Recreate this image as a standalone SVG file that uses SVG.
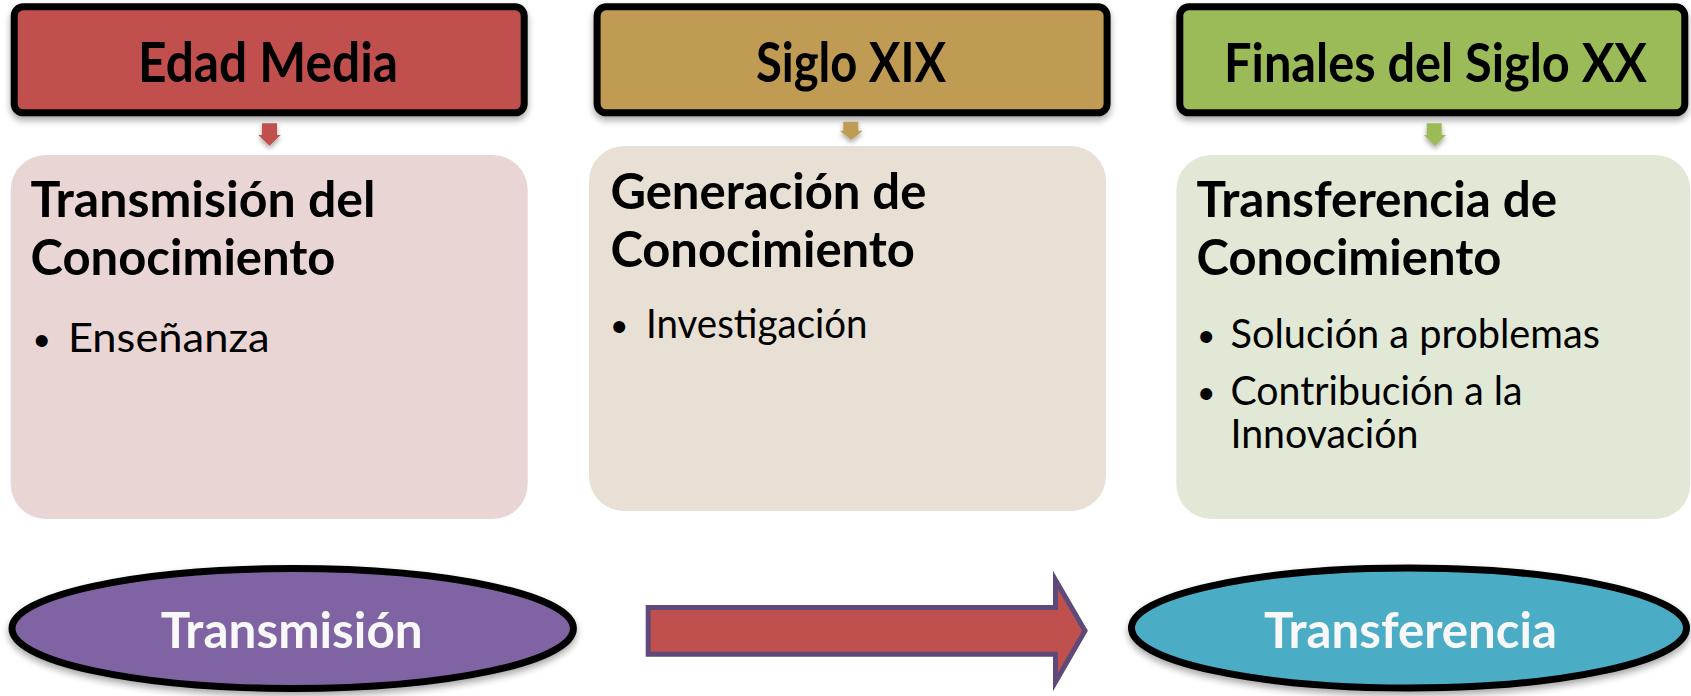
<svg xmlns="http://www.w3.org/2000/svg" width="1691" height="696" viewBox="0 0 1691 696">
  <defs>
    <filter id="shadow" x="-10%" y="-20%" width="120%" height="150%">
      <feDropShadow dx="0" dy="4" stdDeviation="3.5" flood-color="#000" flood-opacity="0.35"/>
    </filter>
    <filter id="shadowSmall" x="-50%" y="-50%" width="200%" height="200%">
      <feDropShadow dx="0" dy="3" stdDeviation="2.5" flood-color="#000" flood-opacity="0.35"/>
    </filter>
  </defs>
  <style>
    .hdr { stroke: #000; stroke-width: 7; filter: url(#shadow); }
    .hdrText { font-family: Lato, "Open Sans", "Liberation Sans", sans-serif; font-weight: 700; font-size: 56px; fill: #000; }
    .box { stroke: none; }
    .title { font-family: Lato, "Open Sans", "Liberation Sans", sans-serif; font-weight: 700; font-size: 50px; fill: #000; }
    .item { font-family: Lato, "Open Sans", "Liberation Sans", sans-serif; font-weight: 400; font-size: 40px; fill: #000; }
    .bullet { font-family: "Liberation Sans", Arial, sans-serif; font-weight: 400; font-size: 44px; fill: #000; }
    .oval { stroke: #000; stroke-width: 7; filter: url(#shadow); }
    .ovalText { font-family: Lato, "Open Sans", "Liberation Sans", sans-serif; font-weight: 700; font-size: 49px; fill: #F8F8F8; }
    .small { filter: url(#shadowSmall); }
  </style>

  <g id="header-edad-media">
    <rect class="hdr" x="14.2" y="6.8" width="510" height="106" rx="9" fill="#C0504D"/>
    <text class="hdrText" x="138" y="81.7" textLength="260" lengthAdjust="spacingAndGlyphs">Edad Media</text>
  </g>
  <g id="header-siglo-xix">
    <rect class="hdr" x="597.1" y="6.8" width="510" height="106" rx="9" fill="#BF9B53"/>
    <text class="hdrText" x="756" y="81.7" textLength="190" lengthAdjust="spacingAndGlyphs">Siglo XIX</text>
  </g>
  <g id="header-finales-siglo-xx">
    <rect class="hdr" x="1179.8" y="6.8" width="505" height="106" rx="9" fill="#9BBB59"/>
    <text class="hdrText" x="1224" y="81.7" textLength="423" lengthAdjust="spacingAndGlyphs" style="font-size:53px">Finales del Siglo XX</text>
  </g>

  <g id="box-transmision">
    <rect class="box" x="10.7" y="155" width="517" height="364" rx="35" fill="#EAD5D5"/>
    <text class="title" x="30.5" y="217.3" textLength="345" lengthAdjust="spacingAndGlyphs">Transmisión del</text>
    <text class="title" x="30.5" y="275" textLength="305" lengthAdjust="spacingAndGlyphs">Conocimiento</text>
    <text class="bullet" x="34" y="356">•</text>
    <text class="item" x="67.9" y="351.7" textLength="201.7" lengthAdjust="spacingAndGlyphs">Enseñanza</text>
  </g>
  <g id="box-generacion">
    <rect class="box" x="589" y="146" width="517" height="365" rx="35" fill="#E8E0D4"/>
    <text class="title" x="610.4" y="209" textLength="316" lengthAdjust="spacingAndGlyphs">Generación de</text>
    <text class="title" x="610.4" y="266.7" textLength="304.6" lengthAdjust="spacingAndGlyphs">Conocimiento</text>
    <text class="bullet" x="611.5" y="342">•</text>
    <text class="item" x="646" y="338.3" textLength="221.5" lengthAdjust="spacingAndGlyphs">Investigación</text>
  </g>
  <g id="box-transferencia">
    <rect class="box" x="1176.3" y="155" width="514" height="364" rx="35" fill="#E1E8D5"/>
    <text class="title" x="1196.6" y="217.3" textLength="360.6" lengthAdjust="spacingAndGlyphs">Transferencia de</text>
    <text class="title" x="1196.6" y="275" textLength="304.7" lengthAdjust="spacingAndGlyphs">Conocimiento</text>
    <text class="bullet" x="1198.5" y="352">•</text>
    <text class="item" x="1230.5" y="348.3" textLength="369.4" lengthAdjust="spacingAndGlyphs">Solución a problemas</text>
    <text class="bullet" x="1198.5" y="409">•</text>
    <text class="item" x="1230.5" y="405" textLength="292" lengthAdjust="spacingAndGlyphs">Contribución a la</text>
    <text class="item" x="1230.5" y="448.3" textLength="188" lengthAdjust="spacingAndGlyphs">Innovación</text>
  </g>

  <g id="oval-transmision">
    <ellipse class="oval" cx="292.7" cy="628.5" rx="280.7" ry="60" fill="#8064A2"/>
    <text class="ovalText" x="160.7" y="648.3" textLength="262" lengthAdjust="spacingAndGlyphs">Transmisión</text>
  </g>
  <g id="oval-transferencia">
    <ellipse class="oval" cx="1409" cy="628" rx="277.5" ry="60" fill="#4BACC6"/>
    <text class="ovalText" x="1264" y="648.3" textLength="293" lengthAdjust="spacingAndGlyphs">Transferencia</text>
  </g>

  <g id="connectors">
    <polygon class="small" fill="#C0504D" points="262,123.3 277,123.3 277,135 280.7,135 269.5,145.7 258.3,135 262,135"/>
    <polygon class="small" fill="#BF9B53" points="843.3,121.7 858.3,121.7 858.3,130.7 862.7,130.7 851.3,140 840,130.7 843.3,130.7"/>
    <polygon class="small" fill="#9BBB59" points="1426.7,123.3 1441.7,123.3 1441.7,135 1446,135 1435,146 1424,135 1426.7,135"/>
    <polygon fill="#C0504D" stroke="#5F497A" stroke-width="5" stroke-linejoin="miter" points="648.2,607.5 1055.5,607.5 1055.5,580 1085,630.8 1055.5,682 1055.5,654.2 648.2,654.2"/>
  </g>
</svg>
